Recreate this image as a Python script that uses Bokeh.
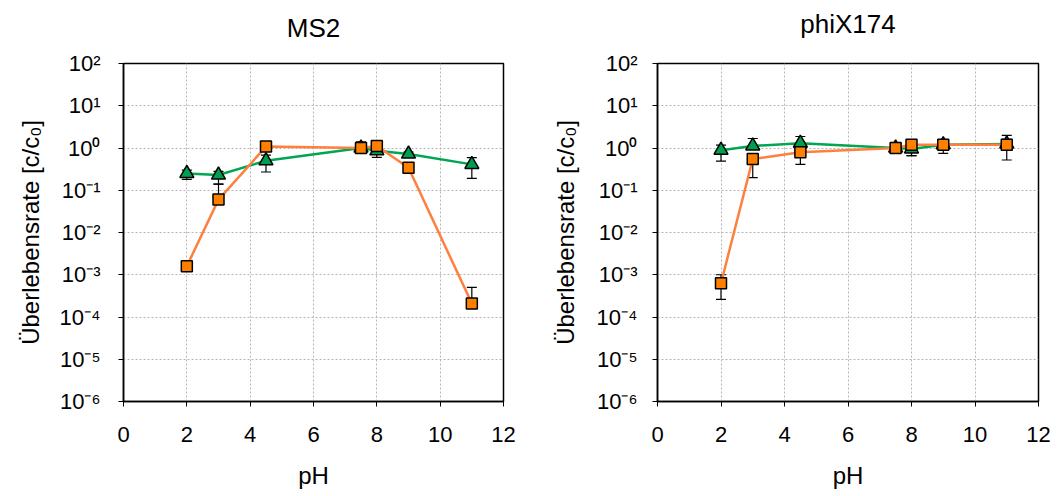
from bokeh.plotting import figure
from bokeh.layouts import row
from bokeh.models import (ColumnDataSource, Whisker, FixedTicker,
                          CustomJSTickFormatter, Range1d, LinearAxis)
from bokeh.embed import file_html
from bokeh.resources import INLINE

# pH values tested
ph = [2, 3, 4.5, 7.5, 8, 9, 11]

# MS2 survival rates (c/c0)
ms2_green = [0.25, 0.23, 0.5, 1.0, 0.86, 0.72, 0.41]
ms2_green_lo = [0.18, 0.14, 0.27, 1.0, 0.6, 0.65, 0.19]
ms2_green_hi = [0.3, 0.28, 0.68, 1.0, 0.95, 0.8, 0.59]
ms2_orange = [1.6e-3, 0.06, 1.08, 1.0, 1.12, 0.34, 2.1e-4]
ms2_orange_lo = [1.6e-3, 0.06, 1.08, 1.0, 1.12, 0.34, 2.1e-4]
ms2_orange_hi = [1.6e-3, 0.14, 1.08, 1.4, 1.12, 0.34, 5e-4]

# phiX174 survival rates (c/c0)
phi_green = [0.89, 1.12, 1.3, 1.0, 0.95, 1.2, 1.25]
phi_green_lo = [0.49, 1.12, 1.3, 1.0, 0.66, 1.2, 1.25]
phi_green_hi = [1.17, 1.68, 1.87, 1.0, 0.95, 1.5, 2.0]
phi_orange = [6.3e-4, 0.55, 0.79, 1.0, 1.2, 1.2, 1.2]
phi_orange_lo = [2.6e-4, 0.2, 0.41, 0.86, 0.66, 0.75, 0.52]
phi_orange_hi = [1.0e-3, 0.55, 0.79, 1.1, 1.25, 1.3, 1.6]

x_ticks = [0, 2, 4, 6, 8, 10, 12]
y_exponents = [-6, -5, -4, -3, -2, -1, 0, 1, 2]
y_tick_labels = ["10⁻⁶", "10⁻⁵", "10⁻⁴", "10⁻³", "10⁻²", "10⁻¹", "10⁰", "10¹", "10²"]

FONT = "Liberation Sans"
GREEN_LINE = "#00A651"
GREEN_FILL = "#009F4F"
ORANGE_LINE = "#FF7F3F"
ORANGE_FILL = "#FF8000"


def make_panel(title, green, g_lo, g_hi, orange, o_lo, o_hi,
               width, border_left, border_right, border_top, border_bottom,
               tick_standoff, ylabel_standoff, title_gap):
    p = figure(
        y_axis_type="log",
        x_range=Range1d(0, 12),
        y_range=Range1d(1e-6, 1e2),
        width=width, height=496,
        min_border_left=border_left, min_border_right=border_right,
        min_border_top=border_top, min_border_bottom=border_bottom,
        output_backend="svg", toolbar_location=None,
        title=title,
    )
    p.title.align = "center"
    p.title.text_font = FONT
    p.title.text_font_size = "26px"
    p.title.text_font_style = "normal"
    p.title.text_color = "black"
    p.title.standoff = 0

    # blank strip (one invisible, unlabeled tick) that keeps the title clear of the frame
    spacer = LinearAxis(ticker=FixedTicker(ticks=[6]), axis_line_color=None,
                        major_tick_line_color=None, minor_tick_line_color=None,
                        major_tick_in=0, major_tick_out=title_gap,
                        major_label_standoff=0, major_label_text_font_size="1px",
                        formatter=CustomJSTickFormatter(code="return '';"))
    p.add_layout(spacer, "above")

    p.outline_line_color = "black"
    p.outline_line_width = 1.5
    p.background_fill_color = "white"
    p.border_fill_color = "white"

    xax = p.below[0]
    yax = p.left[0]
    xax.ticker = FixedTicker(ticks=x_ticks)
    yax.ticker = FixedTicker(ticks=[10.0 ** e for e in y_exponents])
    yax.formatter = CustomJSTickFormatter(
        args=dict(labels=y_tick_labels, lo=y_exponents[0]),
        code="return labels[Math.round(Math.log10(tick)) - lo];")

    for ax in (xax, yax):
        ax.axis_line_color = "black"
        ax.axis_line_width = 1.5
        ax.major_tick_line_color = "black"
        ax.major_tick_in = 0
        ax.major_tick_out = 5
        ax.minor_tick_line_color = None
        ax.major_label_text_font = FONT
        ax.major_label_text_font_size = "22px"
        ax.major_label_text_color = "black"
        ax.axis_label_text_font = FONT
        ax.axis_label_text_font_size = "24px"
        ax.axis_label_text_font_style = "normal"
        ax.axis_label_text_color = "black"

    xax.axis_label = "pH"
    yax.axis_label = "Überlebensrate [c/c₀]"
    xax.major_label_standoff = 20
    yax.major_label_standoff = tick_standoff
    xax.axis_label_standoff = 17
    yax.axis_label_standoff = ylabel_standoff

    for g in (p.xgrid, p.ygrid):
        g.grid_line_color = "#b5b5b5"
        g.grid_line_dash = "2 2"
        g.grid_line_width = 1

    src_g = ColumnDataSource(dict(x=ph, y=green, lo=g_lo, hi=g_hi))
    src_o = ColumnDataSource(dict(x=ph, y=orange, lo=o_lo, hi=o_hi))

    for src in (src_g, src_o):
        w = Whisker(base="x", lower="lo", upper="hi", source=src,
                    line_color="black", line_width=1.2, level="underlay")
        w.upper_head.size = 10
        w.lower_head.size = 10
        w.upper_head.line_color = "black"
        w.lower_head.line_color = "black"
        w.upper_head.line_width = 1.2
        w.lower_head.line_width = 1.2
        p.add_layout(w)

    p.line("x", "y", source=src_g, line_color=GREEN_LINE, line_width=2.5)
    p.line("x", "y", source=src_o, line_color=ORANGE_LINE, line_width=2.5)
    p.scatter("x", "y", source=src_g, marker="triangle", size=14,
              fill_color=GREEN_FILL, line_color="black", line_width=1.5)
    p.scatter("x", "y", source=src_o, marker="square", size=11,
              fill_color=ORANGE_FILL, line_color="black", line_width=1.5)
    return p


p1 = make_panel("MS2", ms2_green, ms2_green_lo, ms2_green_hi,
                ms2_orange, ms2_orange_lo, ms2_orange_hi,
                width=528, border_left=123, border_right=25,
                border_top=59, border_bottom=95,
                tick_standoff=18, ylabel_standoff=13, title_gap=21)
p2 = make_panel("phiX174", phi_green, phi_green_lo, phi_green_hi,
                phi_orange, phi_orange_lo, phi_orange_hi,
                width=529, border_left=129, border_right=19,
                border_top=63, border_bottom=90,
                tick_standoff=15, ylabel_standoff=15, title_gap=25)

layout = row(p1, p2)
open("out.html", "w").write(file_html(layout, INLINE))
